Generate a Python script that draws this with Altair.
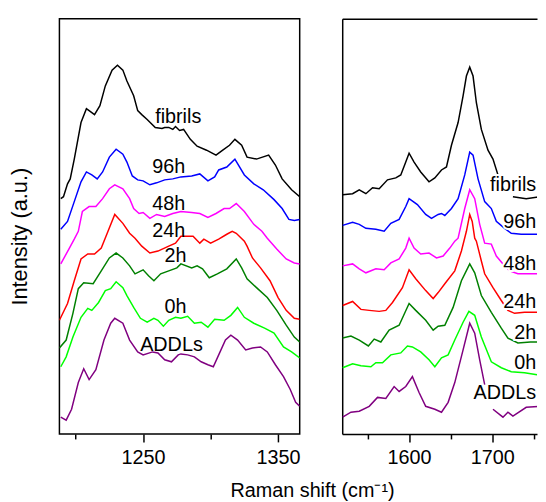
import altair as alt
import pandas as pd

SERIES = ["ADDLs", "0h", "2h", "24h", "48h", "96h", "fibrils"]
COLORS = ["#800080", "#00FF00", "#008000", "#FF0000", "#FF00FF", "#0000FF", "#000000"]

# ---- left panel (1188-1366 cm-1): lists of segments of (wavenumber, intensity)
FIBRILS_L = [[(1189, 238), (1191, 240), (1194, 253), (1196, 258), (1199, 278), (1204, 315), (1208, 329), (1210, 327),
              (1214, 323), (1218, 332), (1222, 352), (1227, 368), (1231, 373), (1235, 368), (1238, 357), (1243, 342),
              (1246, 327), (1249, 323), (1253, 318), (1259, 310), (1264, 309), (1266, 310), (1269, 310), (1272, 308),
              (1274, 311), (1277, 307), (1280, 308), (1285, 298), (1290, 291), (1297, 287), (1304, 282), (1309, 287),
              (1314, 292), (1318, 298), (1323, 292), (1327, 280), (1334, 278), (1343, 282), (1348, 272), (1353, 258),
              (1360, 247), (1366, 240)]]
H96_L = [[(1189, 207), (1194, 215), (1199, 235), (1204, 255), (1208, 265), (1212, 262), (1216, 258), (1220, 265),
          (1225, 280), (1230, 288), (1235, 283), (1238, 275), (1242, 261), (1246, 257), (1250, 256), (1255, 252),
          (1260, 254), (1266, 257), (1272, 258), (1278, 260), (1286, 261), (1292, 263), (1298, 256), (1303, 260),
          (1306, 267), (1312, 270), (1318, 278), (1325, 262), (1332, 253), (1339, 247), (1347, 237), (1353, 228),
          (1358, 217), (1362, 216), (1366, 217)]]
H48_L = [[(1189, 172), (1195, 187), (1199, 197), (1202, 205), (1205, 225), (1210, 230), (1215, 230), (1220, 238),
          (1225, 248), (1229, 252), (1235, 248), (1240, 238), (1243, 228), (1247, 223), (1250, 224), (1255, 218),
          (1260, 222), (1266, 220), (1272, 223), (1278, 225), (1286, 224), (1292, 223), (1298, 219), (1304, 223),
          (1310, 228), (1314, 228), (1319, 233), (1325, 225), (1332, 212), (1338, 205), (1342, 198), (1349, 187),
          (1356, 177), (1362, 173), (1366, 172)]]
H24_L = [[(1188, 115), (1194, 132), (1199, 155), (1204, 177), (1209, 182), (1214, 182), (1219, 188), (1224, 205),
          (1229, 222), (1235, 213), (1240, 203), (1244, 198), (1249, 190), (1255, 183), (1261, 185), (1269, 190),
          (1274, 193), (1278, 200), (1283, 200), (1287, 200), (1292, 193), (1295, 197), (1300, 193), (1306, 197),
          (1312, 202), (1316, 205), (1319, 203), (1325, 195), (1327, 190), (1331, 178), (1337, 168), (1344, 155),
          (1350, 138), (1356, 125), (1362, 117), (1366, 116)]]
H2_L = [[(1188, 87), (1193, 95), (1198, 122), (1202, 147), (1206, 153), (1213, 152), (1219, 165), (1225, 178),
         (1230, 183), (1235, 178), (1240, 170), (1244, 162), (1250, 166), (1254, 160), (1258, 155), (1263, 162),
         (1269, 165), (1275, 168), (1278, 172), (1286, 168), (1290, 170), (1294, 167), (1299, 158), (1305, 162),
         (1312, 167), (1319, 177), (1323, 168), (1327, 157), (1334, 148), (1342, 138), (1349, 125), (1356, 110),
         (1362, 98), (1366, 93)]]
H0_L = [[(1189, 68), (1193, 78), (1198, 98), (1204, 118), (1209, 127), (1212, 125), (1217, 133), (1222, 145),
         (1226, 147), (1230, 154), (1235, 148), (1238, 140), (1243, 128), (1248, 117), (1253, 113), (1258, 117),
         (1261, 115), (1265, 109), (1269, 115), (1274, 118), (1278, 117), (1283, 119), (1288, 112), (1293, 113),
         (1298, 108), (1303, 116), (1310, 115), (1315, 120), (1320, 128), (1325, 118), (1332, 112), (1340, 107),
         (1347, 102), (1354, 88), (1360, 83), (1366, 77)]]
ADDLS_L = [[(1189, 17), (1193, 14), (1197, 25), (1202, 52), (1206, 66), (1210, 55), (1215, 65), (1221, 95),
            (1226, 112), (1229, 117), (1235, 112), (1240, 95), (1246, 83), (1250, 80), (1257, 83), (1261, 82),
            (1266, 75), (1271, 73), (1276, 80), (1278, 81), (1283, 80), (1288, 78), (1293, 73), (1298, 70),
            (1302, 68), (1306, 80), (1311, 95), (1315, 100), (1320, 95), (1326, 85), (1331, 87), (1337, 88),
            (1342, 83), (1348, 70), (1354, 58), (1359, 45), (1363, 32), (1366, 28)]]

# ---- right panel (1520-1754 cm-1 visible)
FIBRILS_R = [[(1520, 242), (1532, 243), (1540, 247), (1548, 243), (1556, 249), (1564, 248), (1574, 257), (1584, 259),
              (1590, 262), (1596, 275), (1600, 284), (1606, 275), (1614, 265), (1624, 255), (1631, 259), (1639, 267),
              (1645, 270), (1651, 292), (1659, 315), (1665, 342), (1669, 362), (1673, 371), (1677, 362), (1681, 335),
              (1687, 308), (1695, 287), (1701, 278), (1707, 262), (1711, 257)],
             [(1725, 240), (1741, 238), (1757, 240), (1764, 242)]]
H96_R = [[(1520, 211), (1532, 214), (1540, 212), (1548, 208), (1560, 207), (1570, 205), (1578, 213), (1588, 217),
          (1596, 230), (1600, 238), (1610, 232), (1620, 222), (1627, 218), (1635, 222), (1639, 223), (1643, 221),
          (1651, 228), (1659, 238), (1667, 262), (1673, 285), (1677, 282), (1683, 258), (1691, 235), (1699, 228),
          (1705, 215), (1715, 208), (1723, 203), (1735, 202), (1746, 202), (1762, 202)]]
H48_R = [[(1520, 170), (1532, 172), (1540, 167), (1548, 163), (1560, 167), (1570, 166), (1578, 173), (1588, 177),
          (1596, 188), (1600, 198), (1606, 188), (1614, 182), (1624, 183), (1633, 178), (1641, 180), (1649, 188),
          (1655, 195), (1659, 198), (1667, 228), (1673, 247), (1679, 238), (1685, 212), (1691, 193), (1699, 192),
          (1705, 180), (1713, 172), (1721, 165), (1731, 162), (1746, 162), (1758, 162)]]
H24_R = [[(1520, 130), (1532, 134), (1542, 126), (1552, 125), (1564, 124), (1572, 125), (1580, 133), (1592, 148),
          (1600, 166), (1608, 157), (1620, 145), (1629, 137), (1635, 143), (1643, 152), (1655, 165), (1663, 185),
          (1669, 205), (1673, 222), (1676, 215), (1679, 198), (1681, 195), (1687, 175), (1691, 162), (1701, 148),
          (1711, 135), (1719, 125), (1727, 122), (1739, 123), (1754, 123)]]
H2_R = [[(1520, 97), (1530, 99), (1540, 95), (1551, 89), (1558, 96), (1566, 93), (1576, 105), (1588, 110),
         (1600, 132), (1608, 125), (1620, 115), (1629, 105), (1635, 109), (1643, 110), (1653, 128), (1663, 155),
         (1673, 172), (1679, 163), (1687, 140), (1699, 123), (1711, 107), (1719, 97), (1731, 92), (1746, 93),
         (1762, 93)]]
H0_R = [[(1520, 67), (1532, 71), (1542, 69), (1554, 68), (1560, 72), (1568, 72), (1578, 80), (1590, 82),
         (1598, 89), (1604, 88), (1614, 83), (1624, 75), (1631, 68), (1639, 77), (1647, 80), (1655, 95),
         (1665, 113), (1672, 124), (1679, 120), (1687, 98), (1699, 73), (1711, 67), (1723, 63), (1739, 62),
         (1754, 60)]]
ADDLS_R = [[(1520, 17), (1530, 22), (1540, 23), (1552, 28), (1562, 37), (1572, 36), (1582, 48), (1588, 43),
            (1596, 48), (1604, 58), (1612, 42), (1620, 28), (1631, 25), (1639, 22), (1647, 32), (1655, 52),
            (1665, 85), (1673, 112), (1679, 102), (1685, 75), (1691, 50)],
           [(1701, 25), (1713, 17), (1719, 22), (1725, 18), (1741, 27), (1757, 28), (1764, 23)]]

LEFT = {"fibrils": FIBRILS_L, "96h": H96_L, "48h": H48_L, "24h": H24_L, "2h": H2_L, "0h": H0_L, "ADDLs": ADDLS_L}
RIGHT = {"fibrils": FIBRILS_R, "96h": H96_R, "48h": H48_R, "24h": H24_R, "2h": H2_R, "0h": H0_R, "ADDLs": ADDLS_R}

# label positions (wavenumber, intensity); right-panel labels end at the page edge
LABELS_L = {"fibrils": (1276, 321), "96h": (1269, 270), "48h": (1269, 233), "24h": (1269, 205),
            "2h": (1274, 180), "0h": (1274, 128), "ADDLs": (1271, 90)}
LABELS_R = {"fibrils": (1753, 252), "96h": (1753, 214), "48h": (1753, 172), "24h": (1753, 133),
            "2h": (1753, 102), "0h": (1753, 72), "ADDLs": (1753, 41)}

FONT = "Liberation Sans"


def to_df(d):
    rows = []
    for name, segs in d.items():
        for k, seg in enumerate(segs):
            for x, y in seg:
                rows.append({"series": name, "seg": f"{name}-{k}", "x": x, "y": y})
    return pd.DataFrame(rows)


def lab_df(d):
    return pd.DataFrame([{"label": k, "x": v[0], "y": v[1]} for k, v in d.items()])


color = alt.Color("series:N", scale=alt.Scale(domain=SERIES, range=COLORS), legend=None)
ysc = alt.Scale(domain=[0, 420], nice=False, zero=False)


def bottom_axis(ticks, major_test, domain):
    return alt.Axis(orient="bottom", values=ticks, format="d",
                    labelExpr=f"({major_test}) ? datum.label : ''",
                    tickSize={"condition": {"test": major_test, "value": 8}, "value": 5},
                    labelPadding=6, labelFlush=False, labelOverlap=False,
                    domain=domain, domainColor="black", domainWidth=1.5)


# ---------- left panel (fully framed by the view stroke)
xl_scale = alt.Scale(domain=[1188, 1366], nice=False, zero=False)
yl = alt.Y("y:Q", scale=ysc, axis=alt.Axis(title="Intensity (a.u.)", labels=False, ticks=False, domain=False,
                                           grid=False, titleFontSize=22, titleFontWeight="normal",
                                           titleX=-40, titleY=220, titleAngle=270, titleAlign="center",
                                           titleBaseline="middle"))
xl = alt.X("x:Q", title=None, scale=xl_scale,
           axis=bottom_axis([1200, 1250, 1300, 1350], "datum.value % 100 == 50", False))
left_lines = alt.Chart(to_df(LEFT)).mark_line(strokeWidth=1.5, clip=True).encode(
    x=xl, y=yl, color=color, detail="seg:N")
left_text = alt.Chart(lab_df(LABELS_L)).mark_text(fontSize=20, font=FONT, align="center", baseline="middle",
                                                  color="black").encode(x=xl, y=yl, text="label:N")
left = alt.layer(left_lines, left_text).properties(width=243, height=420)

# ---------- right panel (open on the right: runs off the page)
xr_scale = alt.Scale(domain=[1519.5, 1754.0], nice=False, zero=False)
yr = alt.Y("y:Q", scale=ysc, axis=alt.Axis(title=None, labels=False, ticks=False, domain=True, grid=False,
                                           domainColor="black", domainWidth=1.5))
right_lines = alt.Chart(to_df(RIGHT)).mark_line(strokeWidth=1.5, clip=True).encode(
    x=alt.X("x:Q", title=None, scale=xr_scale,
            axis=bottom_axis([1550, 1600, 1650, 1700, 1750], "datum.value % 100 == 0", True)),
    y=yr, color=color, detail="seg:N")
right_top = alt.Chart(to_df(RIGHT)).mark_line(opacity=0, clip=True).encode(
    x=alt.X("x:Q", title=None, scale=xr_scale,
            axis=alt.Axis(orient="top", domain=True, domainColor="black", domainWidth=1.5, ticks=False,
                          labels=False, grid=False)),
    y=yr, detail="seg:N")
xr_noaxis = alt.X("x:Q", title=None, scale=xr_scale, axis=None)
right_halo = alt.Chart(lab_df(LABELS_R)).mark_text(fontSize=20, font=FONT, align="right", baseline="middle",
                                                   color="white", stroke="white", strokeWidth=4, clip=True).encode(
    x=xr_noaxis, y=yr, text="label:N")
right_text = alt.Chart(lab_df(LABELS_R)).mark_text(fontSize=20, font=FONT, align="right", baseline="middle",
                                                   color="black", clip=True).encode(
    x=xr_noaxis, y=yr, text="label:N")
right = alt.layer(right_lines, right_top, right_halo, right_text).resolve_axis(x="independent").properties(
    width=197, height=420, view=alt.ViewConfig(stroke="transparent"))

chart = alt.hconcat(left, right, spacing=40).properties(
    padding={"left": 0, "top": 7, "right": 0, "bottom": 0},
    title=alt.TitleParams("Raman shift (cm⁻¹)", orient="bottom", anchor="middle", dx=40, offset=13,
                          fontSize=20, fontWeight="normal", font=FONT, color="black"),
).configure_view(stroke="black", strokeWidth=1.5).configure_axis(
    grid=False, domain=False, tickColor="black", tickWidth=1.5, labelFont=FONT, labelFontSize=20,
    labelColor="black", titleFont=FONT, titleColor="black")

chart.save("out.html", embed_options={"renderer": "svg", "actions": False})
